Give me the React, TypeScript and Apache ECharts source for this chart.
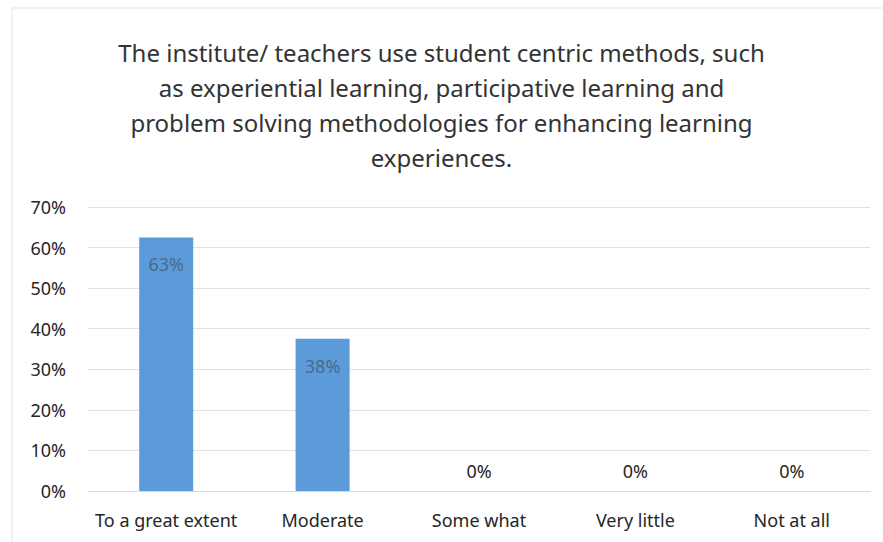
import React, { useEffect, useRef } from "react";
import * as echarts from "echarts";

const categories = ["To a great extent", "Moderate", "Some what", "Very little", "Not at all"];
const values = [62.5, 37.5, 0, 0, 0];
const yTicks = [0, 10, 20, 30, 40, 50, 60, 70];
const titleLines = [
  "The institute/ teachers use student centric methods, such",
  "as experiential learning, participative learning and",
  "problem solving methodologies for enhancing learning",
  "experiences.",
];

export default function App() {
  const ref = useRef<HTMLDivElement>(null);
  useEffect(() => {
    document.body.style.margin = "0";
    const chart = echarts.init(ref.current!, null, { renderer: "svg" });
    const font = "Noto Sans";
    chart.setOption({
      animation: false,
      backgroundColor: "#ffffff",
      textStyle: { fontFamily: font },
      title: {
        text: titleLines.join("\n"),
        left: "center",
        top: 30,
        textStyle: {
          fontFamily: font,
          fontSize: 24,
          fontWeight: "normal",
          color: "#333333",
          lineHeight: 35,
        },
      },
      graphic: [
        {
          type: "rect",
          shape: { x: 12, y: 8, width: 880, height: 540 },
          style: { fill: "none", stroke: "#e4e4e4", lineWidth: 1 },
          silent: true,
        },
      ],
      grid: { left: 88, right: 13, top: 207, bottom: 51, containLabel: false },
      xAxis: {
        type: "category",
        data: categories,
        axisLine: { show: true, lineStyle: { color: "#d9d9d9" } },
        axisTick: { show: false },
        axisLabel: { color: "#262626", fontSize: 18, margin: 20, interval: 0, fontFamily: font },
      },
      yAxis: {
        type: "value",
        min: yTicks[0],
        max: yTicks[yTicks.length - 1],
        interval: 10,
        axisLine: { show: false },
        axisTick: { show: false },
        splitLine: { lineStyle: { color: "#e2e2e2" } },
        axisLabel: {
          color: "#262626",
          fontSize: 18,
          margin: 22,
          fontFamily: font,
          formatter: (v: number) => `${v}%`,
        },
      },
      series: [
        {
          type: "bar",
          data: values.map((v) => ({
            value: v,
            label: {
              show: true,
              position: v > 0 ? "insideTop" : "top",
              distance: v > 0 ? 18 : 11,
              color: v > 0 ? "#4a6a8a" : "#262626",
              fontSize: 18,
              fontFamily: font,
              formatter: () => `${Math.round(v)}%`,
            },
          })),
          barWidth: 54,
          itemStyle: { color: "#5b9bd9" },
        },
      ],
    });
    return () => chart.dispose();
  }, []);
  return <div ref={ref} style={{ width: 883, height: 542 }} />;
}
